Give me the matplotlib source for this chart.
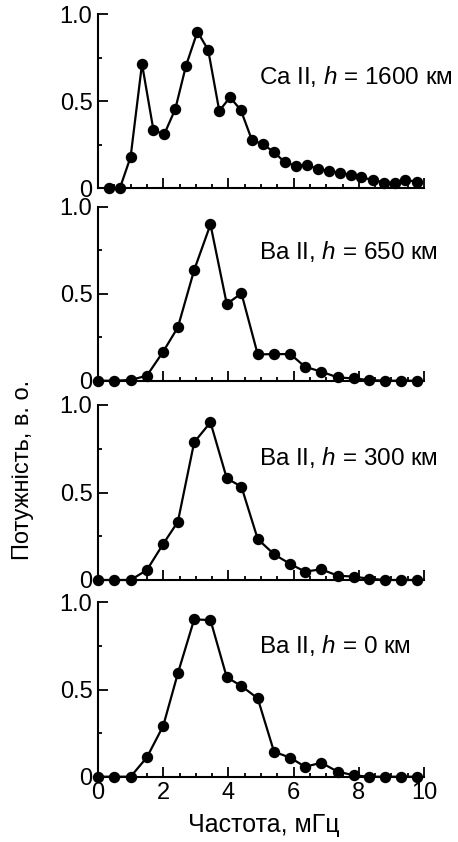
import numpy as np
import matplotlib
matplotlib.use('Agg')
import matplotlib.pyplot as plt
from matplotlib.ticker import MultipleLocator

plt.rcParams['font.family'] = ['Liberation Sans', 'DejaVu Sans']
plt.rcParams['mathtext.fontset'] = 'custom'
plt.rcParams['mathtext.rm'] = 'Liberation Sans'
plt.rcParams['mathtext.it'] = 'Liberation Sans:italic'

# Ca II, h = 1600 km
freq_ca = [0.33, 0.67, 1.0, 1.35, 1.7, 2.03, 2.37, 2.7, 3.05, 3.38, 3.72, 4.05, 4.38, 4.72,
           5.05, 5.4, 5.73, 6.07, 6.42, 6.75, 7.08, 7.42, 7.75, 8.08, 8.43, 8.77, 9.1, 9.43, 9.77]
pow_ca1600 = [0.0, 0.0, 0.18, 0.715, 0.335, 0.31, 0.455, 0.705, 0.90, 0.795, 0.445, 0.523, 0.45, 0.278,
              0.253, 0.209, 0.149, 0.13, 0.135, 0.109, 0.10, 0.086, 0.079, 0.063, 0.048, 0.033, 0.033, 0.048, 0.038]

# Ba II lines
freq_ba = [0.0, 0.5, 1.0, 1.5, 2.0, 2.45, 2.95, 3.45, 3.95, 4.4, 4.9,
           5.4, 5.9, 6.35, 6.85, 7.35, 7.85, 8.3, 8.8, 9.3, 9.8]
pow_ba650 = [0.0, 0.0, 0.004, 0.029, 0.167, 0.307, 0.636, 0.898, 0.441, 0.502, 0.151,
             0.153, 0.153, 0.08, 0.052, 0.019, 0.013, 0.004, 0.0, 0.0, 0.0]
pow_ba300 = [0.0, 0.0, 0.0, 0.057, 0.206, 0.333, 0.787, 0.901, 0.581, 0.533, 0.234,
             0.147, 0.091, 0.048, 0.061, 0.025, 0.019, 0.008, 0.0, 0.0, 0.0]
pow_ba0 = [0.0, 0.0, 0.0, 0.111, 0.291, 0.593, 0.902, 0.898, 0.57, 0.52, 0.449,
           0.143, 0.109, 0.057, 0.08, 0.029, 0.008, 0.0, 0.0, 0.0, 0.0]

panels = [
    (freq_ca, pow_ca1600, 'Ca II, $h$ = 1600 км', 0.64),
    (freq_ba, pow_ba650, 'Ba II, $h$ = 650 км', 0.74),
    (freq_ba, pow_ba300, 'Ba II, $h$ = 300 км', 0.70),
    (freq_ba, pow_ba0, 'Ba II, $h$ = 0 км', 0.75),
]

# top/bottom of each panel in pixels
boxes = [(14.3, 188.3), (206.7, 380.7), (405, 580), (602.3, 776.7)]
W, H = 458, 842
fig = plt.figure(figsize=(W / 100, H / 100), dpi=100)
FS = 17

left, right = 98 / W, 424 / W
for i, ((x, y, label, ty), (top, bot)) in enumerate(zip(panels, boxes)):
    ax = fig.add_axes([left, 1 - bot / H, right - left, (bot - top) / H])
    ax.plot(x, y, '-o', color='black', lw=1.6, ms=7.2, clip_on=False, zorder=3)
    ax.set_xlim(0, 10)
    ax.set_ylim(0, 1.0)
    for s in ['top', 'right']:
        ax.spines[s].set_visible(False)
    for s in ['left', 'bottom']:
        ax.spines[s].set_linewidth(1.5)
    ax.xaxis.set_major_locator(MultipleLocator(2))
    ax.xaxis.set_minor_locator(MultipleLocator(0.5))
    ax.yaxis.set_major_locator(MultipleLocator(0.5))
    ax.yaxis.set_minor_locator(MultipleLocator(0.25))
    ax.tick_params(which='both', direction='in', width=1.3, labelsize=FS, pad=4)
    ax.tick_params(which='major', length=7)
    ax.tick_params(which='minor', length=3)
    ax.set_yticks([0, 0.5, 1.0])
    ax.set_yticklabels(['0', '0.5', '1.0'])
    if i < 3:
        ax.tick_params(axis='x', labelbottom=False)
    else:
        ax.set_xticks([0, 2, 4, 6, 8, 10])
        ax.set_xticklabels(['0', '2', '4', '6', '8', '10'])
    ax.text(4.93, ty, label, transform=ax.get_xaxis_transform(), fontsize=FS + 0.5,
            ha='left', va='center')

fig.text(23 / W, 1 - 470 / H, 'Потужність, в. о.', rotation=90, fontsize=FS, ha='center', va='center')
fig.text(264 / W, 1 - 825 / H, 'Частота, мГц', fontsize=FS + 1, ha='center', va='center')

fig.savefig('out.png', dpi=100)
